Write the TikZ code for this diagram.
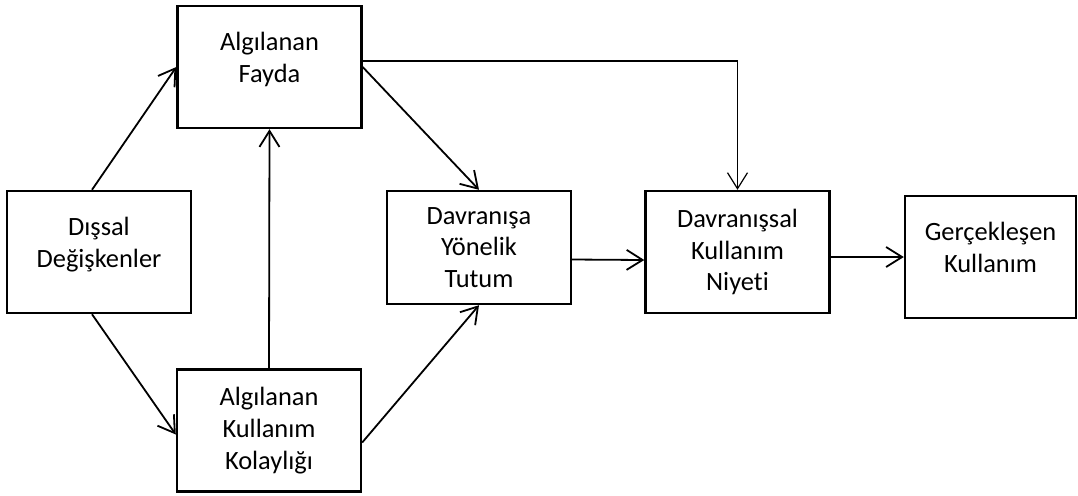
\documentclass[tikz,border=0pt]{standalone}
\usepackage{fontspec}
\setmainfont{Carlito}[Ligatures=NoCommon]
\usetikzlibrary{arrows.meta}

\begin{document}
\begin{tikzpicture}[x=0.5pt, y=-0.5pt,
    box/.style={draw, line width=1.2pt, align=center, minimum width=92pt, minimum height=61pt, inner sep=0pt, font=\fontsize{13.2}{15.9}\selectfont},
    arr/.style={line width=0.9pt, -{Straight Barb[length=8pt, width=10pt]}}]
        \useasboundingbox (0,0) rectangle (1078,495);
        \node[box, text depth=10pt] (disal) at (99,252) {Dışsal\\Değişkenler};
        \node[box, text depth=10pt] (fayda) at (269.5,67) {Algılanan\\Fayda};
        \node[box] (kolay) at (269,430.5) {Algılanan\\Kullanım\\Kolaylığı};
        \node[box, minimum height=56.5pt] (tutum) at (479,247.5) {Davranışa\\Yönelik\\Tutum};
        \node[box] (niyet) at (737.5,252) {Davranışsal\\Kullanım\\Niyeti};
        \node[box, text depth=10pt, minimum width=85.5pt] (gercek) at (990.5,257) {Gerçekleşen\\Kullanım};
        \draw[arr] ([xshift=-3.5pt]disal.north) -- (fayda.west);
        \draw[arr] ([xshift=-3.5pt]disal.south) -- ([yshift=-2pt]kolay.west);
        \draw[arr] (kolay.north) -- (fayda.south);
        \draw[arr] (fayda.east) -- (tutum.north);
        \draw[arr] ([yshift=-6pt]kolay.east) -- (tutum.south);
        \draw[arr, line width=0.6pt] ([yshift=3pt]fayda.east) -| (niyet.north);
        \draw[arr] ([yshift=-6pt]tutum.east) -- ([yshift=-4pt]niyet.west);
        \draw[arr] (niyet.east |- gercek.west) -- (gercek.west);
    \end{tikzpicture}
\end{document}
